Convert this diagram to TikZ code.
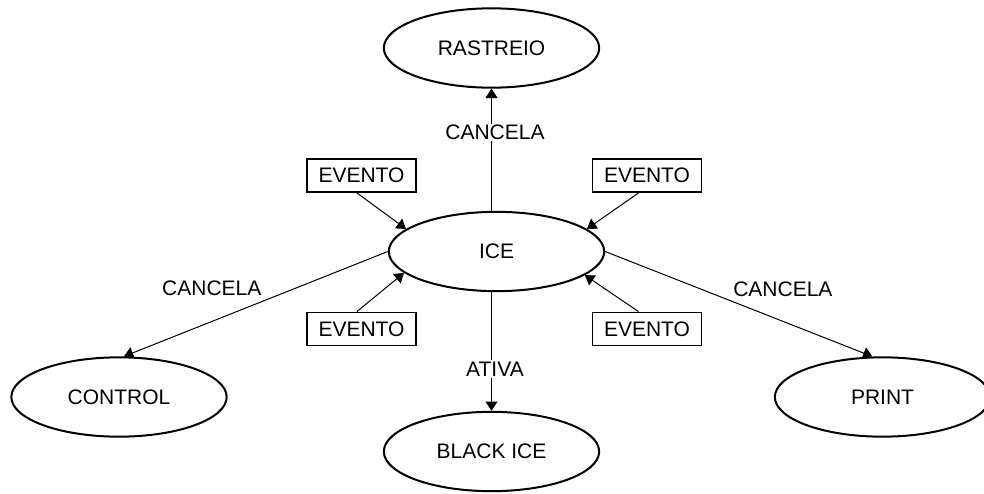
\documentclass[tikz,border=0pt]{standalone}
\usepackage{fontspec}
\setmainfont{Liberation Sans}
\usetikzlibrary{shapes.geometric,arrows.meta}

\begin{document}
\begin{tikzpicture}[x=0.75pt, y=-0.75pt,
    font=\fontsize{15.75}{18}\selectfont,
    estado/.style={ellipse, draw, line width=1.5pt, minimum width=161.5pt, minimum height=59.5pt, inner sep=0pt},
    evento/.style={rectangle, draw, line width=1.2pt, minimum width=82pt, minimum height=25pt, inner sep=0pt},
    seta/.style={-{Triangle[length=7pt,width=9pt]}, line width=0.75pt},
    rotulo/.style={fill=white, inner sep=1pt}]
    \useasboundingbox (0,0) rectangle (984,493);
    % estados
    \node[estado] (rastreio) at (491.5,48) {RASTREIO};
    \node[estado] (ice) at (496.5,251.5) {ICE};
    \node[estado] (control) at (119,397) {CONTROL};
    \node[estado] (print) at (882.5,397) {PRINT};
    \node[estado] (blackice) at (491.5,451.5) {BLACK ICE};
    % eventos
    \node[evento] (ev1) at (361.5,175.5) {EVENTO};
    \node[evento] (ev2) at (647,175.5) {EVENTO};
    \node[evento] (ev3) at (361.5,329) {EVENTO};
    \node[evento] (ev4) at (647,329) {EVENTO};
    % transicoes
    \draw[seta] (ice.north -| rastreio.south) -- node[rotulo, pos=0.64, xshift=2.6pt] {CANCELA} (rastreio.south);
    \draw[seta] (ice.south -| blackice.north) -- node[rotulo, pos=0.647, xshift=2.6pt] {ATIVA} (blackice.north);
    \draw[seta] (ice.west) -- node[pos=0.667, yshift=25pt] {CANCELA} (control.83);
    \draw[seta] (ice.east) -- node[pos=0.665, yshift=24pt] {CANCELA} (print.104);
    \draw[seta] ([xshift=-3.4pt]ev1.south) -- (ice.166);
    \draw[seta] ([xshift=-3.4pt]ev3.north) -- (ice.193.5);
    \draw[seta] ([xshift=-6.4pt]ev2.south) -- (ice.14.7);
    \draw[seta] ([xshift=-6.4pt]ev4.north) -- (ice.345);
\end{tikzpicture}
\end{document}
